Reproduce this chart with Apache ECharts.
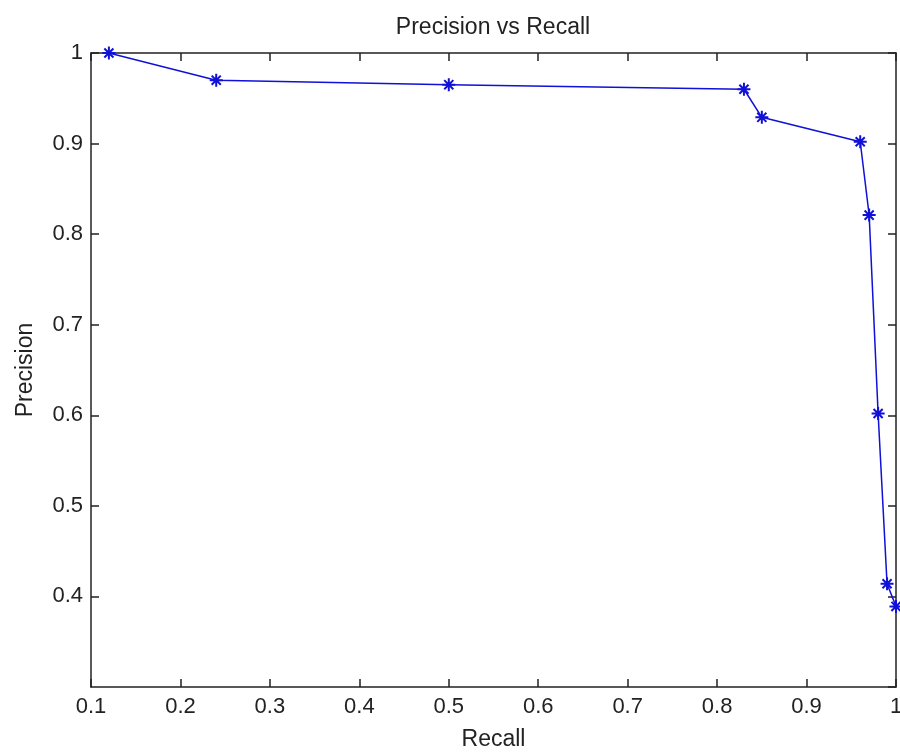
<!DOCTYPE html>
<html>
<head>
<meta charset="utf-8">
<script src="https://cdn.jsdelivr.net/npm/echarts@6/dist/echarts.min.js"></script>
<style>
  html, body { margin: 0; padding: 0; background: #fff; }
  #chart { width: 900px; height: 753px; }
</style>
</head>
<body>
<div id="chart"></div>
<script>
// precision / recall pairs
const recall = [0.12, 0.24, 0.5, 0.83, 0.85, 0.96, 0.97, 0.98, 0.99, 1.0];
const precision = [1.0, 0.97, 0.965, 0.96, 0.929, 0.902, 0.821, 0.602, 0.414, 0.389];

const xRange = [0.1, 1];
const yRange = [0.3, 1];

const FONT = "Liberation Sans, Arial, sans-serif";
const AXIS_COLOR = "#222";
const LINE_COLOR = "#1010d8";

// asterisk marker like matlab '*'
const star = "path://M0,-10L0,10M-10,0L10,0M-7,-7L7,7M-7,7L7,-7";

const fmt = (v) => String(+v.toFixed(1));

function axisBase(extra) {
  return Object.assign(
    {
      type: "value",
      interval: 0.1,
      axisLine: { show: true, onZero: false, lineStyle: { color: AXIS_COLOR, width: 1.5 } },
      axisTick: { show: true, inside: true, length: 8, lineStyle: { color: AXIS_COLOR, width: 1.5 } },
      splitLine: { show: false },
    },
    extra
  );
}

const charts = echarts.init(document.getElementById("chart"));
charts.setOption({
  backgroundColor: "#fff",
  animation: false,
  title: {
    text: "Precision vs Recall",
    left: 493,
    top: 16,
    padding: 0,
    textAlign: "center",
    textStyle: { fontFamily: FONT, fontSize: 23, fontWeight: "normal", color: "#222" },
  },
  grid: { left: 91, right: 4, top: 53, bottom: 66, outerBoundsMode: "none", containLabel: false },
  xAxis: [
    axisBase({
      min: xRange[0],
      max: xRange[1],
      position: "bottom",
      name: "Recall",
      nameLocation: "middle",
      nameGap: 41,
      nameTextStyle: { fontFamily: FONT, fontSize: 23, color: "#222" },
      axisLabel: { fontFamily: FONT, fontSize: 22, color: "#222", margin: 9, formatter: fmt },
    }),
    axisBase({
      min: xRange[0],
      max: xRange[1],
      position: "top",
      axisLabel: { show: false },
    }),
  ],
  yAxis: [
    axisBase({
      min: yRange[0],
      max: yRange[1],
      position: "left",
      name: "Precision",
      nameLocation: "middle",
      nameGap: 54,
      nameTextStyle: { fontFamily: FONT, fontSize: 23, color: "#222" },
      axisLabel: { fontFamily: FONT, fontSize: 22, color: "#222", margin: 8, showMinLabel: false, formatter: fmt },
    }),
    axisBase({
      min: yRange[0],
      max: yRange[1],
      position: "right",
      axisLabel: { show: false },
    }),
  ],
  series: [
    {
      type: "line",
      data: recall.map((r, i) => [r, precision[i]]),
      symbol: star,
      symbolSize: 13,
      showAllSymbol: true,
      lineStyle: { color: LINE_COLOR, width: 1.5 },
      itemStyle: { color: "none", borderColor: LINE_COLOR, borderWidth: 2 },
      clip: false,
      z: 3,
    },
  ],
});
</script>
</body>
</html>
